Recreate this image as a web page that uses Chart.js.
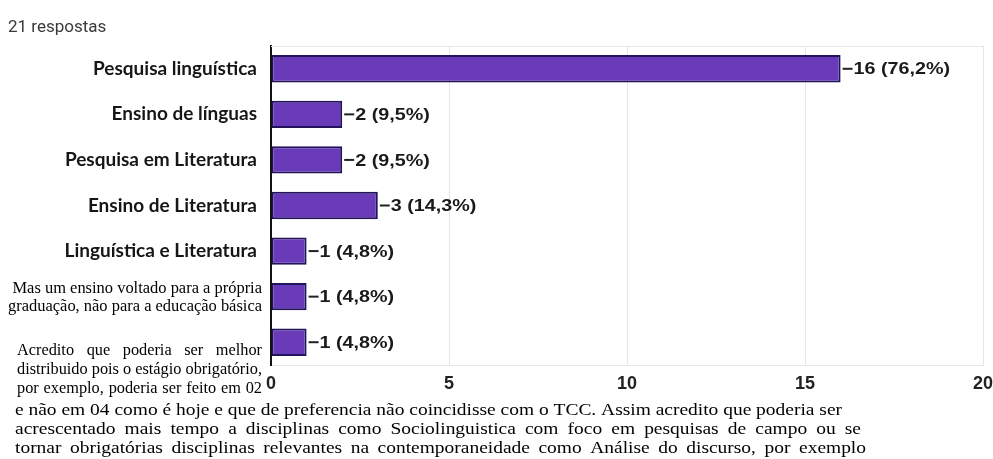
<!DOCTYPE html>
<html lang="pt-BR">
<head>
<meta charset="utf-8">
<script src="https://cdn.jsdelivr.net/npm/chart.js@4.4.1/dist/chart.umd.min.js"></script>
<style>
    html, body { margin: 0; padding: 0; background: #fff; }
    #wrap { position: relative; width: 993px; height: 459px; }
    #total { position: absolute; left: 8px; top: 16px; font: 17px Roboto, sans-serif; color: #3a3a3a; }
</style>
</head>
<body>
<div id="wrap">
    <div id="total">21 respostas</div>
    <canvas id="grafico"></canvas>
</div>
<script>
const TOTAL_RESPOSTAS = 21;

const categorias = [
    'Pesquisa linguística',
    'Ensino de línguas',
    'Pesquisa em Literatura',
    'Ensino de Literatura',
    'Linguística e Literatura',
    'Mas um ensino voltado para a própria graduação, não para a educação básica',
    'Acredito que poderia ser melhor distribuido pois o estágio obrigatório, por exemplo, poderia ser feito em 02 e não em 04 como é hoje e que de preferencia não coincidisse com o TCC. Assim acredito que poderia ser acrescentado mais tempo a disciplinas como Sociolinguistica com foco em pesquisas de campo ou se tornar obrigatórias disciplinas relevantes na contemporaneidade como Análise do discurso, por exemplo'
];

const respostas = [16, 2, 2, 3, 1, 1, 1];

const eixoX = [0, 5, 10, 15, 20];

// quebra de linha das respostas abertas (texto em fonte serifada)
const linhasCurta = [
    'Mas um ensino voltado para a própria',
    'graduação, não para a educação básica'
];
const linhasLonga = [
    'Acredito que poderia ser melhor',
    'distribuido pois o estágio obrigatório,',
    'por exemplo, poderia ser feito em 02',
    'e não em 04 como é hoje e que de preferencia não coincidisse com o TCC. Assim acredito que poderia ser',
    'acrescentado mais tempo a disciplinas como Sociolinguistica com foco em pesquisas de campo ou se',
    'tornar obrigatórias disciplinas relevantes na contemporaneidade como Análise do discurso, por exemplo'
];

const ESTICA_VAL = 1.16; // valores um pouco mais largos

function pct(v) {
    return (v / TOTAL_RESPOSTAS * 100).toFixed(1).replace('.', ',') + '%';
}

// escreve uma linha justificada entre x0 e x1, esticada na horizontal por sx
function justificar(ctx, texto, x0, x1, y, sx) {
    const palavras = texto.split(' ');
    const larguras = palavras.map(p => ctx.measureText(p).width);
    const soma = larguras.reduce((a, b) => a + b, 0);
    const disponivel = (x1 - x0) / sx;
    const espaco = (disponivel - soma) / (palavras.length - 1);
    ctx.save();
    ctx.translate(x0, y);
    ctx.scale(sx, 1);
    ctx.textAlign = 'left';
    let x = 0;
    palavras.forEach((p, i) => {
        ctx.fillText(p, x, 0);
        x += larguras[i] + espaco;
    });
    ctx.restore();
}

function textoLargo(ctx, texto, x, y, sx, alinhamento) {
    ctx.save();
    ctx.translate(x, y);
    ctx.scale(sx, 1);
    ctx.textAlign = alinhamento;
    ctx.fillText(texto, 0, 0);
    ctx.restore();
}

const rotulos = {
    id: 'rotulos',
    afterDraw(chart) {
        const ctx = chart.ctx;
        const xs = chart.scales.x;
        const ys = chart.scales.y;
        const area = chart.chartArea;

        ctx.save();
        // linha superior da área do gráfico
        ctx.strokeStyle = '#e8e8e8';
        ctx.lineWidth = 1;
        ctx.beginPath();
        ctx.moveTo(area.left, area.top + 0.5);
        ctx.lineTo(area.right, area.top + 0.5);
        ctx.stroke();

        ctx.fillStyle = '#161616';
        ctx.textBaseline = 'middle';

        // categorias simples
        ctx.font = 'bold 19px Lato, sans-serif';
        ctx.textAlign = 'right';
        for (let i = 0; i < 5; i++) {
            ctx.fillText(categorias[i], 257, ys.getPixelForValue(i));
        }

        // respostas abertas
        ctx.fillStyle = '#000';
        ctx.font = '16px "Liberation Serif", serif';
        const y5 = ys.getPixelForValue(5);
        const sxCurta = 254 / ctx.measureText(linhasCurta[1]).width;
        textoLargo(ctx, linhasCurta[0], 262, y5 - 8, sxCurta, 'right');
        textoLargo(ctx, linhasCurta[1], 262, y5 + 10, sxCurta, 'right');

        // comentário longo: três linhas ao lado do eixo, três abaixo dele
        const y6 = ys.getPixelForValue(6);
        const limites = [[17, 262], [17, 262], [17, 262], [15, 842], [15, 861], [15, 866]];
        const fator = k => (limites[k][1] - limites[k][0]) / ctx.measureText(linhasLonga[k]).width;
        const sxCima = Math.min(fator(0), fator(1), fator(2));
        const sxBaixo = Math.min(fator(3), fator(4), fator(5));
        linhasLonga.forEach((l, k) => {
            const y = y6 + 9 + k * 19 + (k > 2 ? 3 : 0);
            justificar(ctx, l, limites[k][0], limites[k][1], y, k > 2 ? sxBaixo : sxCima);
        });

        // valores ao lado das barras
        ctx.fillStyle = '#1a1a1a';
        ctx.font = 'bold 17px "Liberation Sans", Arial, sans-serif';
        ctx.strokeStyle = '#222';
        ctx.lineWidth = 2;
        respostas.forEach((v, i) => {
            const xf = xs.getPixelForValue(v);
            const y = ys.getPixelForValue(i);
            ctx.beginPath();
            ctx.moveTo(xf + 2, y);
            ctx.lineTo(xf + 12, y);
            ctx.stroke();
            textoLargo(ctx, v + ' (' + pct(v) + ')', xf + 13, y + 1, ESTICA_VAL, 'left');
        });
        ctx.restore();
    }
};

new Chart(document.getElementById('grafico'), {
    type: 'bar',
    data: {
        labels: categorias,
        datasets: [{
            data: respostas,
            backgroundColor: '#6a3bb8',
            borderColor: '#22145c',
            borderWidth: 2,
            borderSkipped: false,
            barPercentage: 0.6,
            categoryPercentage: 1
        }]
    },
    options: {
        indexAxis: 'y',
        responsive: true,
        maintainAspectRatio: false,
        animation: false,
        layout: { padding: { top: 46, right: 10, bottom: 64, left: 0 } },
        plugins: {
            legend: { display: false },
            tooltip: { enabled: false }
        },
        scales: {
            x: {
                min: eixoX[0],
                max: eixoX[eixoX.length - 1],
                afterBuildTicks: scale => { scale.ticks = eixoX.map(v => ({ value: v })); },
                ticks: {
                    font: { family: '"Liberation Sans", Arial, sans-serif', size: 18, weight: 'bold' },
                    color: '#222',
                    padding: 8
                },
                grid: { color: '#e6e6e6', drawTicks: false },
                border: { display: true, color: '#e6e6e6' },
                afterFit: scale => {
                    scale.height = 30;
                    scale.paddingLeft = 0;
                    scale.paddingRight = 0;
                }
            },
            y: {
                ticks: { display: false },
                grid: { display: false },
                border: { display: true, color: '#111', width: 2 },
                afterFit: scale => { scale.width = 271; }
            }
        }
    },
    plugins: [rotulos]
});
</script>
</body>
</html>
